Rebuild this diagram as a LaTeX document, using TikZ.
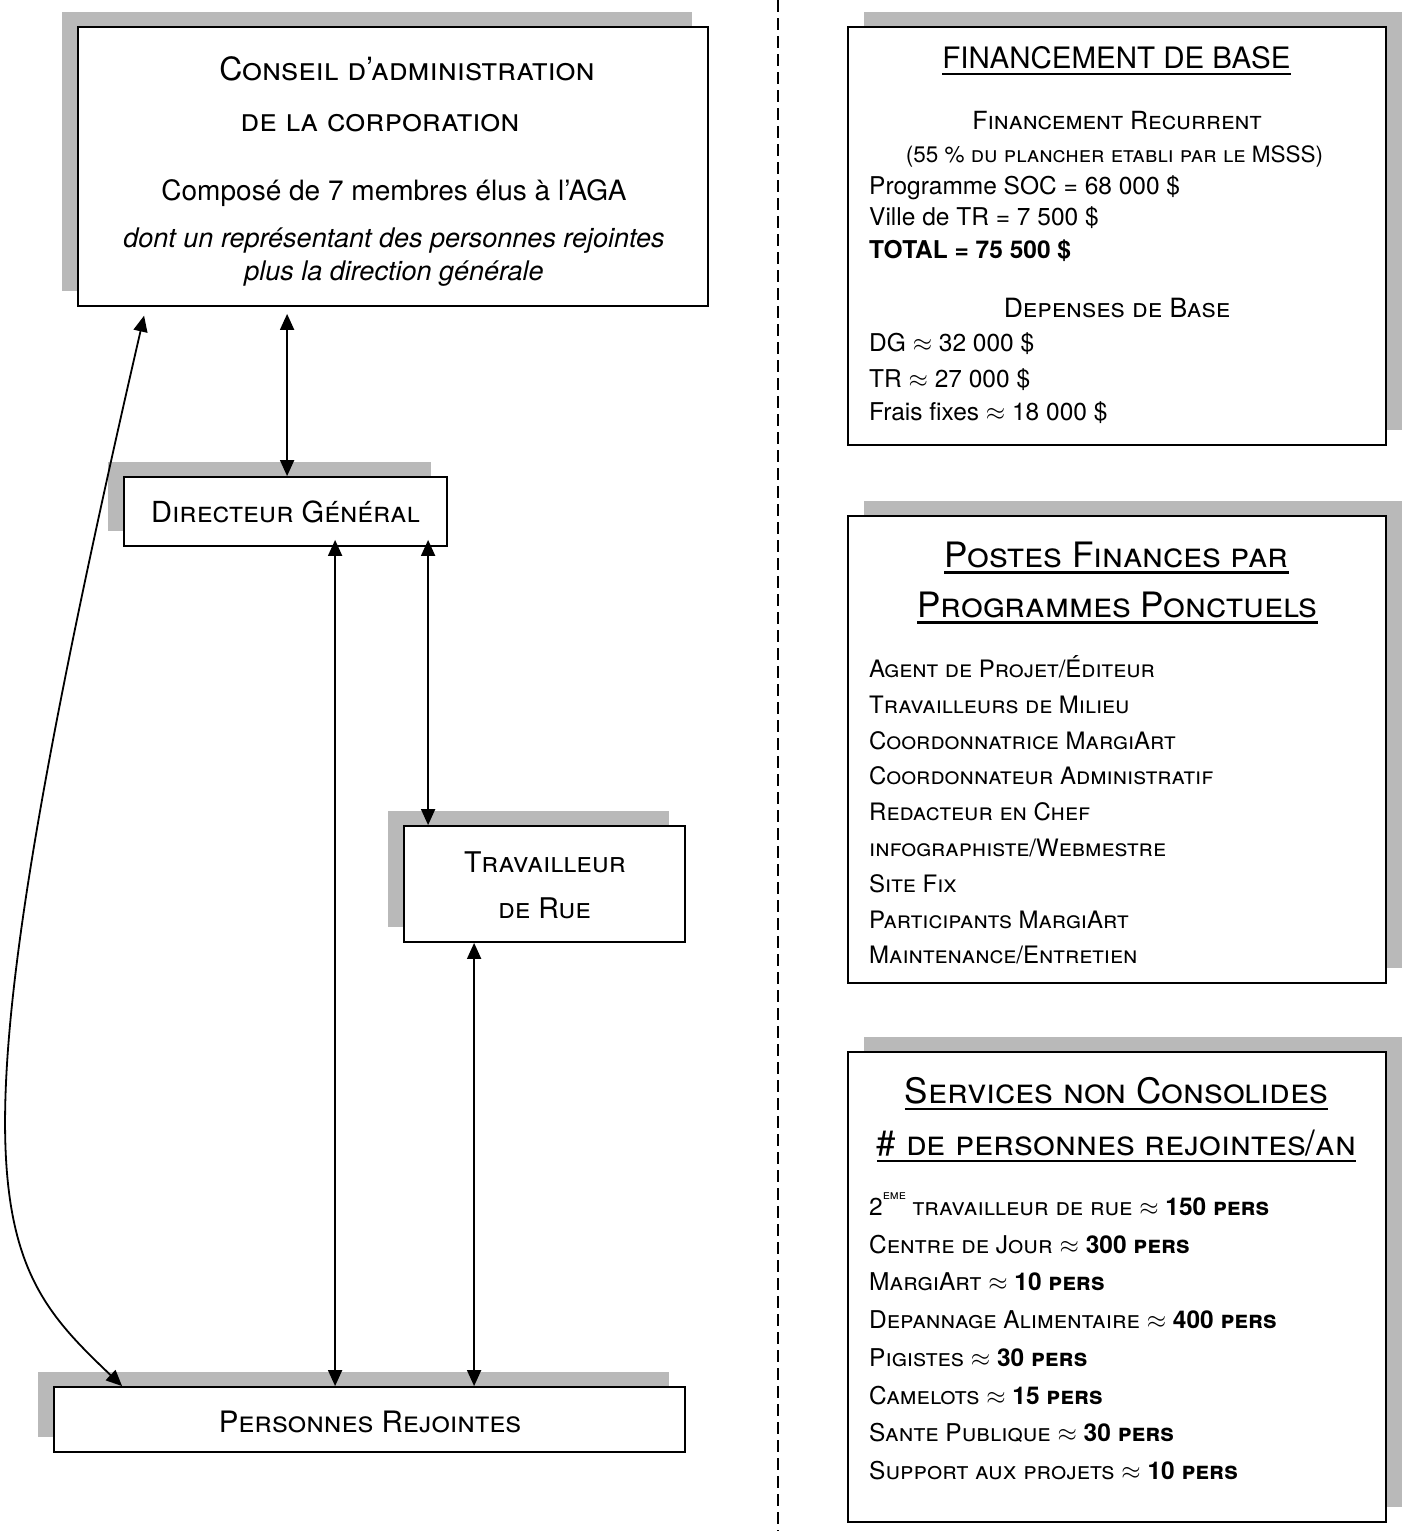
\documentclass[tikz,border=0pt]{standalone}
\usepackage{fontspec}
\setmainfont{TeX Gyre Heros}
\usetikzlibrary{arrows.meta,shadows}
\newcommand\fsz[1]{\fontsize{#1pt}{#1pt}\selectfont}
\newcommand\myul[1]{\leavevmode\vtop{\hbox{#1}\kern4pt\hrule height 2.2pt}}
\tikzset{
  lbox/.style={draw=black, line width=1.8pt, fill=white, inner sep=0pt,
    drop shadow={shadow xshift=-16pt, shadow yshift=15pt, fill=gray!55, opacity=1}},
  rbox/.style={draw=black, line width=1.8pt, fill=white, inner sep=0pt,
    drop shadow={shadow xshift=16pt, shadow yshift=15pt, fill=gray!55, opacity=1}},
  txt/.style={anchor=base, inner sep=0pt},
  ltxt/.style={anchor=base west, inner sep=0pt},
  dbl/.style={line width=1.8pt, {Triangle[length=16pt,width=14pt]}-{Triangle[length=16pt,width=14pt]}},
}
\begin{document}
\begin{tikzpicture}[x=1pt,y=-1pt]
\useasboundingbox (0,0) rectangle (1402,1531);

% separator
\draw[line width=2pt, dash pattern=on 12pt off 6pt] (778,0) -- (778,1531);

% left boxes
\node[lbox, minimum width=630pt, minimum height=279pt] (conseil) at (393,166.5) {};
\node[lbox, minimum width=323pt, minimum height=69pt] (dg) at (285.5,511.5) {};
\node[lbox, minimum width=281pt, minimum height=116pt] (tr) at (544.5,884) {};
\node[lbox, minimum width=631pt, minimum height=65pt] (pers) at (369.5,1419.5) {};

\node[txt] (c1) at (407,80) {\fsz{32}\scshape Conseil d’administration};
\node[txt] (c2) at (380,131) {\fsz{32}\scshape de la corporation};
\node[txt] (c3) at (394,200) {\fsz{28}Composé de 7 membres élus à l’AGA};
\node[txt] (c4) at (394,247) {\fsz{27}\itshape dont un représentant des personnes rejointes};
\node[txt] (c5) at (394,280) {\fsz{27}\itshape plus la direction générale};

\node[txt] (dgt) at (285.5,522) {\fsz{29}\scshape Directeur Général};
\node[txt] (tr1) at (545,872) {\fsz{28.5}\scshape Travailleur};
\node[txt] (tr2) at (544.5,918) {\fsz{28.5}\scshape de Rue};
\node[txt] (prt) at (370,1432) {\fsz{29.5}\scshape Personnes Rejointes};

% right boxes
\node[rbox, minimum width=538pt, minimum height=418pt] (fb) at (1117,236) {};
\node[rbox, minimum width=538pt, minimum height=467pt] (pf) at (1117,749.5) {};
\node[rbox, minimum width=538pt, minimum height=470pt] (sc) at (1117,1287) {};

\node[txt] (fb0) at (1116.5,68) {\fsz{29.5}\myul{FINANCEMENT DE BASE}};
\node[txt] (fb1) at (1117,129) {\fsz{25}\scshape Financement Recurrent};
\node[txt] (fb2) at (1114.5,162) {\fsz{22.5}\scshape (55 \% du plancher etabli par le MSSS)};
\node[ltxt] (fb3) at (869,194) {\fsz{24.5}Programme SOC = 68~000 \$};
\node[ltxt] (fb4) at (869,225) {\fsz{24.5}Ville de TR = 7~500 \$};
\node[ltxt] (fb5) at (869,258) {\fsz{24.5}\bfseries TOTAL = 75~500 \$};
\node[txt] (fb6) at (1117,317) {\fsz{26.5}\scshape Depenses de Base};
\node[ltxt] (fb7) at (869,351) {\fsz{24.5}DG $\approx$ 32~000 \$};
\node[ltxt] (fb8) at (869,387) {\fsz{24.5}TR $\approx$ 27~000 \$};
\node[ltxt] (fb9) at (869,420) {\fsz{24.5}Frais fixes $\approx$ 18~000 \$};

\node[txt] (pf0) at (1116.5,567) {\fsz{35}\scshape\myul{Postes Finances par}};
\node[txt] (pf1) at (1117.5,617) {\fsz{35}\scshape\myul{Programmes Ponctuels}};
\node[ltxt] (pf2) at (869,677) {\fsz{24}\scshape Agent de Projet/Éditeur};
\node[ltxt] (pf3) at (869,713) {\fsz{24}\scshape Travailleurs de Milieu};
\node[ltxt] (pf4) at (869,749) {\fsz{24}\scshape Coordonnatrice MargiArt};
\node[ltxt] (pf5) at (869,784) {\fsz{24}\scshape Coordonnateur Administratif};
\node[ltxt] (pf6) at (869,820) {\fsz{24}\scshape Redacteur en Chef};
\node[ltxt] (pf7) at (869,856) {\fsz{24}\scshape infographiste/Webmestre};
\node[ltxt] (pf8) at (869,892) {\fsz{24}\scshape Site Fix};
\node[ltxt] (pf9) at (869,928) {\fsz{24}\scshape Participants MargiArt};
\node[ltxt] (pf10) at (869,963) {\fsz{24}\scshape Maintenance/Entretien};

\node[txt] (sc0) at (1116.5,1103) {\fsz{35}\scshape\myul{Services non Consolides}};
\node[txt] (sc1) at (1116.5,1155) {\fsz{35}\scshape\myul{\# de personnes rejointes/an}};
\node[ltxt] (sc2) at (869,1215) {\fsz{24.5}\scshape 2\raisebox{0.65em}{\fsz{13}eme} travailleur de rue $\approx$ \textbf{150 pers}};
\node[ltxt] (sc3) at (869,1253) {\fsz{24.5}\scshape Centre de Jour $\approx$ \textbf{300 pers}};
\node[ltxt] (sc4) at (869,1290) {\fsz{24.5}\scshape MargiArt $\approx$ \textbf{10 pers}};
\node[ltxt] (sc5) at (869,1328) {\fsz{24.5}\scshape Depannage Alimentaire $\approx$ \textbf{400 pers}};
\node[ltxt] (sc6) at (869,1366) {\fsz{24.5}\scshape Pigistes $\approx$ \textbf{30 pers}};
\node[ltxt] (sc7) at (869,1404) {\fsz{24.5}\scshape Camelots $\approx$ \textbf{15 pers}};
\node[ltxt] (sc8) at (869,1441) {\fsz{24.5}\scshape Sante Publique $\approx$ \textbf{30 pers}};
\node[ltxt] (sc9) at (869,1479) {\fsz{24.5}\scshape Support aux projets $\approx$ \textbf{10 pers}};

% connectors
\draw[dbl, shorten <=7pt] ([xshift=210pt]conseil.south west) -- ([xshift=164pt]dg.north west);
\draw[dbl, shorten <=-7pt] ([xshift=212pt]dg.south west) -- ([xshift=282pt]pers.north west);
\draw[dbl, shorten <=-7pt] ([xshift=305pt]dg.south west) -- ([xshift=25pt]tr.north west);
\draw[dbl] ([xshift=71pt]tr.south west) -- ([xshift=421pt]pers.north west);
\draw[dbl, shorten <=9pt] ([xshift=69pt]conseil.south west) .. controls (-60,1200) and (-10,1260) .. ([xshift=69pt]pers.north west);
\end{tikzpicture}
\end{document}
